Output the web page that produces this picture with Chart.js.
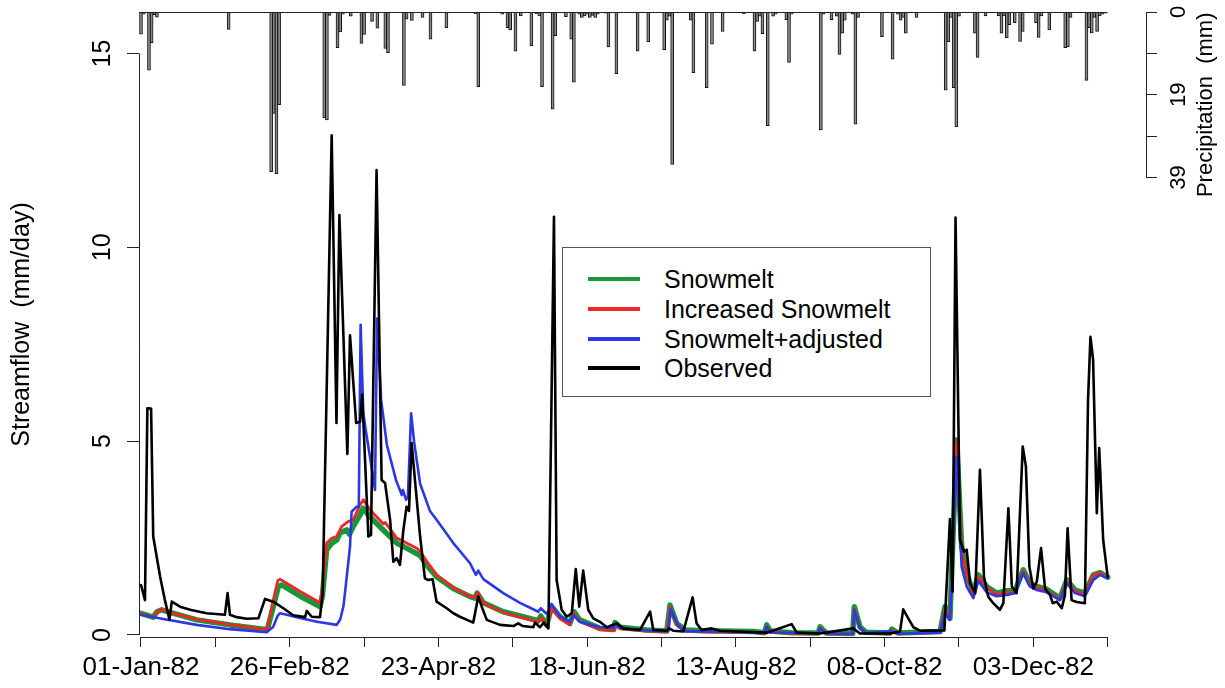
<!DOCTYPE html>
<html><head><meta charset="utf-8">
<script src="https://cdn.jsdelivr.net/npm/chart.js@4.4.1/dist/chart.umd.min.js"></script>
<style>
html,body{margin:0;padding:0;background:#fff;}
#wrap{position:relative;width:1225px;height:688px;overflow:hidden;}
canvas{position:absolute;left:0;top:0;}
#legend{position:absolute;left:562px;top:247px;width:367px;height:148px;border:1.5px solid #555;background:#fff;font-family:"Liberation Sans",Arial,sans-serif;font-size:25px;color:#000;}
.row{position:absolute;left:0;height:30px;width:360px;}
.sw{position:absolute;left:25px;top:13px;width:52px;height:4px;}
.lb{position:absolute;left:101px;top:0;white-space:nowrap;line-height:30px;}
</style></head>
<body><div id="wrap"><canvas id="c" width="1225" height="688"></canvas><div id="legend"></div></div>
<script>
// ---------- data (day of year 1982, 0 = 01-Jan) ----------
const xTickDays   = [0,28,56,84,112,140,168,196,224,252,280,308,336,364];
const xTickLabels = ['01-Jan-82','','26-Feb-82','','23-Apr-82','','18-Jun-82','','13-Aug-82','','08-Oct-82','','03-Dec-82',''];
const yTickValues = [0,5,10,15];
const pTickValues = [0,9.75,19.5,29.25,39];
const pTickLabels = ['0','','19','','39'];
const seriesNames = ['Snowmelt','Increased Snowmelt','Snowmelt+adjusted','Observed'];

const precipDay = [0,1,3,4,5,6,33,49,50,51,52,69,70,71,74,75,76,79,83,84,87,89,92,93,99,100,102,106,109,115,126,127,136,138,139,141,143,147,149,150,151,155,156,160,162,163,165,166,167,168,169,170,171,172,175,176,179,187,191,197,198,199,200,207,208,213,215,219,227,231,232,233,234,236,238,239,243,244,245,256,257,260,262,263,264,265,268,269,270,279,283,285,286,287,288,292,303,304,305,306,307,308,314,315,318,323,324,325,326,327,329,331,332,337,338,339,342,348,349,350,356,357,358,359,360,361,362,363];
const precipMm  = [5.2,0.5,13.7,7.2,0.6,1.2,4.1,37.6,23.9,38.1,21.8,24.9,25.4,0.8,8.4,4.7,0.5,1.0,7.4,5.3,2.2,3.8,8.6,9.6,17.3,1.7,2.0,1.3,6.4,3.7,0.4,17.6,0.5,3.7,4.2,9.2,0.9,8.0,0.4,0.9,17.6,22.9,5.6,1.1,6.4,16.5,0.5,1.3,0.9,0.5,1.3,0.8,1.3,0.5,0.3,8.2,14.5,9.2,7.0,8.9,1.9,1.0,35.9,1.9,14.3,17.8,7.6,4.6,0.4,9.2,2.2,1.0,5.1,26.8,1.0,0.5,1.8,11.9,0.5,27.8,0.5,1.8,1.0,10.0,5.0,1.9,0.5,26.4,1.3,5.8,11.1,0.5,1.9,1.3,5.0,1.3,18.4,7.0,1.3,17.8,27.0,1.0,5.0,10.7,0.9,0.9,5.0,0.9,6.1,3.0,2.5,6.9,4.6,2.5,6.0,0.9,4.2,8.4,8.2,1.3,16.1,3.7,4.9,1.3,4.6,0.9,0.5,0.3];

const obsDay  = [0,1.5,2.4,3.8,4.6,7.2,9.0,10.7,11.6,14.7,18.5,24.7,31.6,32.6,33.5,36,39.8,44.2,46.7,49.8,53.6,57.3,61.8,62.4,64.3,67.4,68.4,71.8,73.6,74.7,77.7,78.7,81.0,82.5,83.3,85.6,86.6,88.7,90.6,91.9,93.8,95.0,96.3,97.5,98.8,100.0,100.9,101.9,103.5,105.1,106.9,108.0,109.8,111.3,115.1,117.6,120.1,125.1,127.0,128.3,130.2,135.2,140.2,142.0,143.8,147.7,148.4,150.2,151.7,153.4,155.5,156.5,158.4,160.3,162.2,163.7,165.0,166.5,168.4,170.3,172.8,175.4,179.1,181.6,187.9,191.7,192.9,197.9,198.9,200.4,204.2,207.7,209.2,211.1,214.9,218.0,224.3,235.6,245.0,246.9,255.7,268.2,270.7,282.0,285.8,287.0,288.9,290.8,293.3,302.5,304.6,305.6,306.7,308.4,309.9,310.9,312.2,314.1,315.9,317.4,319.0,320.9,323.4,324.7,326.6,327.9,329.7,332.0,333.2,334.5,336.0,337.3,338.9,340.4,342.3,343.3,344.8,346.7,347.9,348.9,350.4,352.3,355.4,356.6,357.5,358.5,359.9,360.8,362.3,364.0];
const obsFlow = [1.29,0.9,5.85,5.84,2.54,1.5,0.9,0.4,0.86,0.73,0.65,0.56,0.52,1.08,0.52,0.46,0.42,0.43,0.93,0.86,0.69,0.51,0.46,0.62,0.47,0.46,1.08,12.89,5.47,10.83,4.67,7.73,5.47,5.5,6.2,2.54,2.58,11.99,4.0,3.92,2.97,1.89,1.98,1.81,2.71,3.31,3.2,4.95,3.74,2.54,1.46,1.42,1.44,0.86,0.69,0.56,0.47,0.32,0.99,0.73,0.39,0.26,0.23,0.3,0.23,0.2,0.32,0.2,0.32,0.17,10.79,1.42,0.65,0.47,0.56,1.7,0.73,1.66,0.65,0.43,0.34,0.2,0.3,0.17,0.13,0.6,0.13,0.11,0.17,0.11,0.09,0.97,0.3,0.13,0.17,0.11,0.09,0.06,0.28,0.06,0.04,0.17,0.04,0.04,0.09,0.66,0.43,0.2,0.11,0.12,2.99,1.12,10.77,2.45,2.15,2.2,1.33,1.08,4.26,1.5,0.99,0.82,0.65,0.82,3.27,1.25,1.08,4.86,4.35,1.76,1.2,1.38,2.24,1.2,1.03,0.82,0.86,0.69,1.03,2.75,0.9,0.85,0.82,6.07,7.69,7.1,3.14,4.82,2.45,1.5];

const snowDay  = [0,4.6,6.0,7.8,10,21.0,33.5,46.0,47.6,49.8,51.7,53.0,60.0,67.4,68.3,69.9,71.9,73.7,74.9,77.4,78.5,79.9,82.5,83.7,86.2,88.7,91.2,96.3,100.0,103.8,105.1,107.6,111.3,117.6,123.9,125.8,126.6,128.9,136.4,142.7,149.6,150.5,152.8,154.6,157.8,161.5,163.0,165.2,172.8,178.0,178.5,180.4,190.4,198.0,199.2,201.7,205.0,212.0,230.6,234.8,235.6,237.0,245.0,255.0,255.7,258.0,268.0,268.6,270.7,273.0,282.0,282.7,285.0,300.9,302.7,304.6,307.1,309.0,310.9,313.4,315.3,318.4,322.2,326.0,329.1,332.2,334.7,337.3,341.0,346.0,348.6,351.7,355.4,358.6,361.1,364.0];
const snowFlow = [0.56,0.46,0.6,0.65,0.6,0.39,0.26,0.15,0.15,0.73,1.25,1.29,1.0,0.73,1.0,2.2,2.37,2.45,2.63,2.71,2.6,2.8,3.1,3.27,3.05,2.88,2.71,2.37,2.24,2.1,2.05,1.8,1.5,1.2,0.99,0.95,1.08,0.83,0.6,0.49,0.37,0.49,0.26,0.73,0.47,0.3,0.6,0.39,0.17,0.14,0.32,0.2,0.13,0.1,0.77,0.3,0.13,0.11,0.09,0.06,0.26,0.1,0.06,0.05,0.21,0.05,0.04,0.73,0.21,0.07,0.05,0.15,0.05,0.09,0.73,0.43,5.03,2.28,1.59,1.08,1.55,1.25,1.08,1.14,1.14,1.68,1.33,1.25,1.18,0.95,1.42,1.16,1.08,1.55,1.61,1.49];

const incDay  = [0,4.6,6.0,7.8,10,21.0,33.5,46.0,47.6,49.8,51.5,52.3,60.0,67.4,68.3,69.9,71.9,73.7,75.6,78.1,79.9,82.5,83.7,86.2,88.7,91.2,92.0,96.3,100.0,103.8,105.1,107.6,111.3,117.6,123.9,125.8,126.6,128.9,136.4,142.7,149.6,150.5,152.8,154.6,157.8,161.5,163.0,165.2,172.8,178.0,178.5,180.4,190.4,198.0,199.2,201.7,205.0,212.0,230.6,234.8,235.6,237.0,245.0,255.0,255.7,258.0,268.0,268.6,270.7,273.0,282.0,282.7,285.0,300.9,302.7,304.6,307.1,309.0,310.9,313.4,315.3,318.4,322.2,326.0,329.1,332.2,334.7,337.3,341.0,346.0,348.6,351.7,355.4,358.6,361.1,364.0];
const incFlow = [0.55,0.45,0.6,0.66,0.6,0.4,0.27,0.15,0.15,0.9,1.4,1.44,1.12,0.83,1.2,2.37,2.5,2.54,2.8,2.93,2.97,3.36,3.49,3.23,3.05,2.87,2.9,2.5,2.37,2.24,2.16,1.9,1.55,1.22,1.0,0.96,1.1,0.82,0.58,0.46,0.33,0.45,0.22,0.68,0.42,0.26,0.55,0.34,0.14,0.11,0.28,0.16,0.1,0.08,0.72,0.26,0.1,0.08,0.06,0.04,0.22,0.07,0.04,0.03,0.18,0.03,0.03,0.68,0.18,0.05,0.03,0.12,0.03,0.07,0.65,0.4,5.0,2.2,1.55,1.05,1.5,1.22,1.05,1.1,1.1,1.65,1.3,1.22,1.15,0.92,1.38,1.13,1.05,1.55,1.6,1.48];

const adjDay  = [0,8.4,21.0,33.5,47.3,49.8,51.5,52.3,54.9,58.6,66.2,73.7,75.0,76.2,76.8,78.7,79.3,81.2,82.0,82.7,83.7,85.0,86.2,88.1,88.9,90.4,92.6,96.0,98.2,98.6,99.8,100.5,101.7,102.8,105.1,108.8,111.3,117.6,123.9,126.1,127.0,128.9,136.4,142.7,149.6,150.5,152.8,154.6,157.8,161.5,163.0,165.2,172.8,178.0,178.5,181.0,192.0,198.5,199.4,202.5,205,218.0,234.8,235.6,237.0,255.0,255.7,258.0,268.0,268.6,270.7,273.0,282.7,285.0,300.9,302.7,304.6,307.1,309.0,310.9,313.4,315.3,318.4,322.2,326.0,329.1,332.2,334.7,337.3,341.0,346.0,348.6,351.7,355.4,358.6,361.1,364.0];
const adjFlow = [0.52,0.41,0.26,0.15,0.07,0.21,0.5,0.56,0.52,0.46,0.34,0.26,0.4,0.73,1.08,2.28,3.18,3.31,3.3,8.0,5.72,5.12,4.6,3.74,8.16,6.07,4.9,4.0,3.61,3.74,3.49,3.56,5.72,5.0,3.9,3.2,2.97,2.37,1.85,1.55,1.66,1.44,1.08,0.83,0.6,0.69,0.54,0.8,0.47,0.34,0.5,0.34,0.2,0.18,0.26,0.17,0.11,0.1,0.66,0.21,0.1,0.09,0.05,0.21,0.07,0.04,0.17,0.04,0.03,0.65,0.18,0.05,0.1,0.03,0.06,0.56,0.39,4.6,1.76,1.25,0.95,1.4,1.1,1.0,1.03,1.08,1.6,1.25,1.16,1.1,0.9,1.33,1.08,1.0,1.42,1.55,1.46];

// ---------- build ----------
const zip = (xs, ys) => xs.map((x, i) => ({x: x, y: ys[i]}));
const colors = {snow:'#17963a', inc:'#f02626', adj:'#2b38e4', obs:'#000000'};
const FONT = '"Liberation Sans", Arial, Helvetica, sans-serif';
const noPad = s => { s.paddingTop = 0; s.paddingBottom = 0; s.paddingLeft = 0; s.paddingRight = 0; };

const axisLines = {
  id: 'axisLines',
  afterDraw(chart) {
    const {ctx, chartArea: a, scales} = chart;
    const x = scales.x, y = scales.y, yP = scales.yP;
    ctx.save();
    ctx.strokeStyle = '#222';
    ctx.lineWidth = 1;
    ctx.beginPath();
    const lx = Math.round(a.left) + 0.5;
    ctx.moveTo(lx, y.getPixelForValue(0)); ctx.lineTo(lx, y.getPixelForValue(15));
    const by = Math.round(a.bottom) + 0.5;
    ctx.moveTo(x.getPixelForValue(0), by); ctx.lineTo(x.getPixelForValue(364), by);
    const ty = Math.round(a.top) + 0.5;
    ctx.moveTo(a.left, ty); ctx.lineTo(x.getPixelForValue(364), ty);
    const rx = Math.round(a.right) + 0.5;
    ctx.moveTo(rx, yP.getPixelForValue(0)); ctx.lineTo(rx, yP.getPixelForValue(39));
    ctx.stroke();
    // right axis title, reading bottom-to-top like the left one
    ctx.fillStyle = '#000';
    ctx.font = '22px ' + FONT;
    ctx.textAlign = 'center';
    ctx.textBaseline = 'middle';
    ctx.translate(1206, (yP.getPixelForValue(0) + yP.getPixelForValue(39)) / 2 + 10);
    ctx.rotate(-Math.PI / 2);
    ctx.fillText('Precipitation  (mm)', 0, 0);
    ctx.restore();
  }
};

const ctx = document.getElementById('c').getContext('2d');
new Chart(ctx, {
  type: 'bar',
  data: {
    datasets: [
      {type:'line', label:seriesNames[3], data: zip(obsDay, obsFlow), yAxisID:'y', borderColor:colors.obs, borderWidth:2.6, pointRadius:0, tension:0, order:0, borderJoinStyle:'round', borderCapStyle:'round'},
      {type:'line', label:seriesNames[2], data: zip(adjDay, adjFlow), yAxisID:'y', borderColor:colors.adj, borderWidth:2.6, pointRadius:0, tension:0, order:1, borderJoinStyle:'round', borderCapStyle:'round'},
      {type:'line', label:seriesNames[1], data: zip(incDay, incFlow), yAxisID:'y', borderColor:colors.inc, borderWidth:2.8, pointRadius:0, tension:0, order:2, borderJoinStyle:'round', borderCapStyle:'round'},
      {type:'line', label:seriesNames[0], data: zip(snowDay, snowFlow), yAxisID:'y', borderColor:colors.snow, borderWidth:5.5, pointRadius:0, tension:0, order:3, borderJoinStyle:'round', borderCapStyle:'round'},
      {type:'bar', label:'Precipitation', data: zip(precipDay, precipMm), yAxisID:'yP', backgroundColor:'#8a8a8a', borderColor:'#111', borderWidth:1, borderSkipped:'start', barThickness:3, order:4}
    ]
  },
  options: {
    responsive: false,
    animation: false,
    devicePixelRatio: 1,
    events: [],
    layout: {padding: {left:0, right:0, top:12, bottom:0}},
    plugins: {legend: {display:false}, tooltip: {enabled:false}},
    scales: {
      x: {
        type:'linear', position:'bottom', min:-0.753, max:378.42, offset:false,
        afterBuildTicks: s => { s.ticks = xTickDays.map(v => ({value:v})); },
        afterFit: s => { s.height = 51; noPad(s); },
        ticks: {autoSkip:false, maxRotation:0, minRotation:0, padding:5, color:'#000',
                font:{family:FONT, size:26},
                callback: (v) => { const i = xTickDays.indexOf(v); return i >= 0 ? xTickLabels[i] : ''; }},
        grid: {offset:false, drawOnChartArea:false, drawTicks:true, tickLength:10, color:'#222', tickColor:'#222', lineWidth:1},
        border: {display:false}
      },
      y: {
        type:'linear', position:'left', min:-0.052, max:16.07,
        afterBuildTicks: s => { s.ticks = yTickValues.map(v => ({value:v})); },
        afterFit: s => { s.width = 139; noPad(s); },
        ticks: {autoSkip:false, minRotation:90, maxRotation:90, crossAlign:'center', padding:10, color:'#000',
                font:{family:FONT, size:25}, callback: v => String(v)},
        grid: {offset:false, drawOnChartArea:false, drawTicks:true, tickLength:12, tickColor:'#222', lineWidth:1},
        border: {display:false},
        title: {display:true, text:'Streamflow  (mm/day)', color:'#000', font:{family:FONT, size:25}, padding:{top:7, bottom:0}}
      },
      yP: {
        type:'linear', position:'right', reverse:true, min:0, max:147.2,
        afterBuildTicks: s => { s.ticks = pTickValues.map(v => ({value:v})); },
        afterFit: s => { s.width = 79; noPad(s); },
        ticks: {autoSkip:false, minRotation:90, maxRotation:90, crossAlign:'center', padding:10, color:'#000',
                font:{family:FONT, size:22},
                callback: (v) => { const i = pTickValues.indexOf(v); return i >= 0 ? pTickLabels[i] : ''; }},
        grid: {offset:false, drawOnChartArea:false, drawTicks:true, tickLength:11, tickColor:'#222', lineWidth:1},
        border: {display:false}
      }
    }
  },
  plugins: [axisLines]
});

// legend (HTML, real text)
const legendColors = [colors.snow, colors.inc, colors.adj, colors.obs];
const lg = document.getElementById('legend');
const rowTops = [16, 46, 76, 105];
seriesNames.forEach((n, i) => {
  const r = document.createElement('div');
  r.className = 'row'; r.style.top = rowTops[i] + 'px';
  const sw = document.createElement('div'); sw.className = 'sw'; sw.style.background = legendColors[i];
  const lb = document.createElement('div'); lb.className = 'lb'; lb.textContent = n;
  r.appendChild(sw); r.appendChild(lb); lg.appendChild(r);
});
</script>
</body></html>
